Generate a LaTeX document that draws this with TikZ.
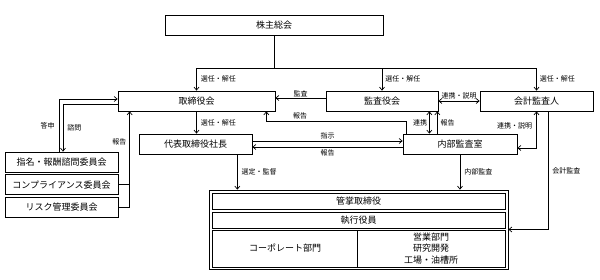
\documentclass[tikz,border=0pt]{standalone}
\usepackage{fontspec}
\setmainfont{Noto Sans CJK JP}
\usetikzlibrary{arrows.meta,positioning}
\tikzset{unit/.style={rectangle,draw,inner sep=1pt,font=\fontsize{9}{11.5}\selectfont,minimum height=20pt},
  note/.style={inner sep=1pt,font=\fontsize{7}{8}\selectfont}}

\begin{document}
\begin{tikzpicture}[x=1pt,y=-1pt,line width=0.7pt,>={Straight Barb[length=3pt,width=5pt]}]
  \useasboundingbox (0,0) rectangle (600,280);

  \node (meeting)    [unit,minimum width=218pt] at (274,25)    {株主総会};
  \node (board)      [unit,minimum width=157pt] at (196.5,101) {取締役会};
  \node (auditboard) [unit,minimum width=112pt] at (382,101)   {監査役会};
  \node (accountant) [unit,minimum width=113pt] at (536.5,101) {会計監査人};
  \node (president)  [unit,minimum width=113pt] at (195.5,144) {代表取締役社長};
  \node (internal)   [unit,minimum width=114pt] at (460,144)   {内部監査室};
  \node (nomination) [unit,minimum width=113pt] at (61.5,162)  {指名・報酬諮問委員会};
  \node (compliance) [unit,minimum width=113pt,below=2pt of nomination] {コンプライアンス委員会};
  \node (risk)       [unit,minimum width=113pt,below=2pt of compliance] {リスク管理委員会};

  % organisation block
  \node (org)       [draw,inner sep=0pt,minimum width=299pt,minimum height=79pt] at (358.5,229.5) {};
  \node (director)  [unit,minimum width=293pt,minimum height=16pt] at (358.5,201) {管掌取締役};
  \node (officer)   [unit,minimum width=293pt,minimum height=16pt] at (358.5,220) {執行役員};
  \node (corporate) [unit,minimum width=145pt,minimum height=37pt] at (285,248.5) {コーポレート部門};
  \node (business)  [unit,minimum width=148pt,minimum height=37pt,align=center] at (431,248.5) {営業部門\\研究開発\\工場・油槽所};

  \coordinate (bus) at (274,68);
  \coordinate (riser) at ([xshift=12pt]board.south west);

  \draw (meeting) -- (bus);
  \draw[->] (bus) -| (board.north) node[note,pos=0.75,right=3pt] {選任・解任};
  \draw[->] (bus) -| (auditboard.north) node[note,pos=0.75,right=2pt] {選任・解任};
  \draw[->] (bus) -| (accountant.north) node[note,pos=0.75,right=2pt] {選任・解任};

  \draw[<->] (auditboard) -- (accountant) node[note,midway,above=1pt] {連携・説明};
  \draw[->] ([yshift=3pt]auditboard.west) -- ([yshift=3pt]board.east) node[note,midway,above] {監査};
  \draw[->] ([xshift=4pt]internal.north west) -- ++(0,-12) -| ([xshift=-9pt]board.south east)
        node[note,pos=0.38,above=1pt] {報告};

  \draw[->] (board.south) -- (board.south |- president.north) node[note,midway,right=3pt] {選任・解任};
  \draw[->] ([yshift=3pt]president.east) -- ([yshift=3pt]internal.west) node[note,midway,above=1pt] {指示};
  \draw[->] ([yshift=-3pt]internal.west) -- ([yshift=-3pt]president.east) node[note,midway,below=1pt] {報告};

  \draw[<->] ([xshift=-9pt]auditboard.south east) -- ([xshift=-9pt]auditboard.south east |- internal.north)
        node[note,midway,left=1pt] {連携};
  \draw[->] ([xshift=-1pt]auditboard.south east |- internal.north) -- ([xshift=-1pt]auditboard.south east)
        node[note,midway,right=2pt] {報告};
  \draw[<->] (accountant.south) |- ([yshift=-4pt]internal.east) node[note,pos=0.2,left=3pt] {連携・説明};
  \draw[->] ([xshift=11.5pt]accountant.south) |- (org.east) node[note,pos=0.25,right=3pt] {会計監査};

  \draw[->] (internal.south) -- (internal.south |- org.north) node[note,midway,right=3pt] {内部監査};
  \draw[->] ([xshift=-15pt]president.south east) -- ([xshift=-15pt]president.south east |- org.north)
        node[note,midway,right=3pt] {選定・監督};

  % committees
  \draw[->] ([xshift=-2.5pt]nomination.north) |- ([yshift=2pt]board.west) node[note,pos=0.25,left=3pt] {答申};
  \draw[->] ([yshift=-3pt]board.west) -| ([xshift=1.5pt]nomination.north) node[note,pos=0.75,right=3pt] {諮問};
  \draw[->] (risk.east) -| (riser) node[note,pos=0.84,left=2pt] {報告};
  \draw (compliance.east) -- (compliance.east -| riser);
\end{tikzpicture}
\end{document}
